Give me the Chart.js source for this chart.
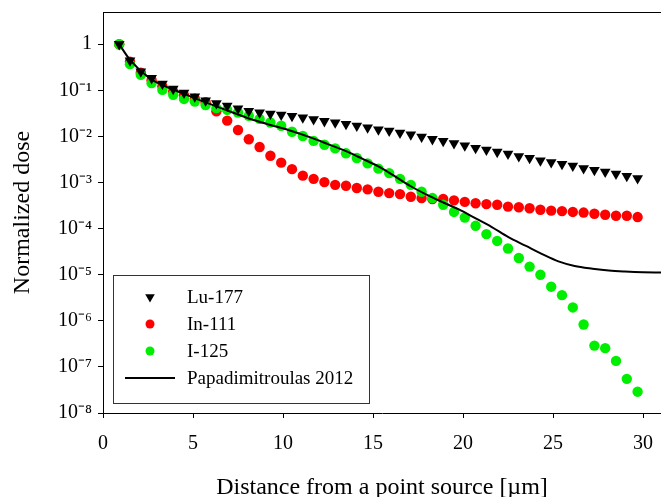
<!DOCTYPE html>
<html>
<head>
<meta charset="utf-8">
<script src="https://cdn.jsdelivr.net/npm/chart.js@4.4.0/dist/chart.umd.min.js"></script>
<style>
  html, body { margin: 0; padding: 0; background: #fff; }
</style>
</head>
<body>
<canvas id="myChart" width="661" height="497"></canvas>
<script>
// distances of the simulated points [µm]
const distances = [0.9, 1.5, 2.1, 2.7, 3.3, 3.9, 4.5, 5.1, 5.7, 6.3, 6.9, 7.5, 8.1, 8.7, 9.3, 9.9,
  10.5, 11.1, 11.7, 12.3, 12.9, 13.5, 14.1, 14.7, 15.3, 15.9, 16.5, 17.1, 17.7, 18.3, 18.9, 19.5,
  20.1, 20.7, 21.3, 21.9, 22.5, 23.1, 23.7, 24.3, 24.9, 25.5, 26.1, 26.7, 27.3, 27.9, 28.5, 29.1, 29.7];

const lu177 = [1.0, 0.44, 0.255, 0.183, 0.138, 0.107, 0.088, 0.073, 0.060, 0.052, 0.046, 0.040, 0.0355,
  0.033, 0.031, 0.0295, 0.0275, 0.0257, 0.0234, 0.0214, 0.020, 0.0186, 0.017, 0.0155, 0.0141, 0.0132,
  0.012, 0.011, 0.0098, 0.0087, 0.0079, 0.0071, 0.0063, 0.0056, 0.0051, 0.0046, 0.0042, 0.0037, 0.0034,
  0.0030, 0.00275, 0.0025, 0.0023, 0.00204, 0.00186, 0.0017, 0.00155, 0.00138, 0.00123];

const in111 = [1.0, 0.42, 0.24, 0.165, 0.122, 0.095, 0.078, 0.066, 0.055, 0.035, 0.022, 0.0138, 0.0087,
  0.0059, 0.0038, 0.0027, 0.00195, 0.00141, 0.0012, 0.00102, 0.00089, 0.00085, 0.00076, 0.00071,
  0.00063, 0.00059, 0.00056, 0.00049, 0.00046, 0.00044, 0.00044, 0.00041, 0.00038, 0.000355, 0.00034,
  0.00033, 0.0003, 0.00029, 0.000277, 0.000256, 0.000245, 0.00024, 0.00023, 0.000223, 0.00021, 0.0002,
  0.00019, 0.00019, 0.000178];

const i125 = [1.0, 0.37, 0.216, 0.143, 0.102, 0.080, 0.065, 0.057, 0.048, 0.041, 0.0376, 0.033, 0.028,
  0.024, 0.020, 0.017, 0.0126, 0.0102, 0.0080, 0.0066, 0.0055, 0.0043, 0.0034, 0.0026, 0.0020, 0.0016,
  0.0012, 0.00089, 0.00063, 0.00046, 0.00033, 0.00023, 0.000174, 0.000115, 7.6e-5, 5.4e-5, 3.7e-5,
  2.3e-5, 1.5e-5, 1.0e-5, 5.5e-6, 3.6e-6, 1.95e-6, 8.3e-7, 2.9e-7, 2.55e-7, 1.35e-7, 5.5e-8, 2.9e-8];

// Papadimitroulas 2012 reference curve
const papaX = [0.9, 1.5, 2.6, 3.5, 4.4, 5.3, 6.3, 7.2, 8.1, 9.2, 10.3, 11.6, 12.5, 13.5, 14.4, 15.3,
  16.2, 17.1, 18.0, 19.0, 19.8, 20.6, 21.6, 22.5, 23.5, 24.4, 25.3, 26.2, 27.2, 28.1, 29.0, 30.0, 31.0];
const papaY = [1.0, 0.457, 0.182, 0.120, 0.087, 0.063, 0.0447, 0.0331, 0.0245, 0.0182, 0.0138, 0.0093,
  0.0068, 0.0048, 0.0033, 0.00224, 0.00138, 0.00083, 0.00054, 0.000355, 0.000257, 0.000175, 0.000108,
  6.6e-5, 4.2e-5, 2.8e-5, 1.95e-5, 1.55e-5, 1.35e-5, 1.23e-5, 1.17e-5, 1.13e-5, 1.12e-5];

const xTicks = [0, 5, 10, 15, 20, 25, 30];
const yTickValues = [1e-8, 1e-7, 1e-6, 1e-5, 1e-4, 1e-3, 1e-2, 1e-1, 1];
const yTickLabels = ['10\u207B\u2078', '10\u207B\u2077', '10\u207B\u2076', '10\u207B\u2075', '10\u207B\u2074',
  '10\u207B\u00B3', '10\u207B\u00B2', '10\u207B\u00B9', '1'];

const SERIF = "'Liberation Serif', 'Times New Roman', serif";

const toPoints = (xs, ys) => xs.map((x, i) => ({ x: x, y: ys[i] }));

// top frame line
const topFrame = {
  id: 'topFrame',
  afterDraw(chart) {
    const { ctx, chartArea } = chart;
    ctx.save();
    ctx.strokeStyle = '#000';
    ctx.lineWidth = 1;
    ctx.beginPath();
    ctx.moveTo(chartArea.left, chartArea.top + 0.5);
    ctx.lineTo(chartArea.right, chartArea.top + 0.5);
    ctx.stroke();
    ctx.restore();
  }
};

// boxed legend in the lower left of the plot
const boxLegend = {
  id: 'boxLegend',
  afterDraw(chart) {
    const ctx = chart.ctx;
    const order = [1, 2, 3, 0];
    ctx.save();
    ctx.fillStyle = '#fff';
    ctx.fillRect(113, 275, 256, 129);
    ctx.strokeStyle = '#333';
    ctx.lineWidth = 1;
    ctx.strokeRect(113.5, 275.5, 256, 128);
    ctx.font = '19px ' + SERIF;
    ctx.textBaseline = 'middle';
    ctx.textAlign = 'left';
    order.forEach((di, row) => {
      const ds = chart.data.datasets[di];
      const y = 297 + row * 27;
      const x = 150;
      if (ds.showLine) {
        ctx.strokeStyle = ds.borderColor;
        ctx.lineWidth = ds.borderWidth;
        ctx.beginPath();
        ctx.moveTo(125, y);
        ctx.lineTo(175, y);
        ctx.stroke();
      } else if (ds.pointStyle === 'triangle') {
        const r = 5.5;
        ctx.fillStyle = ds.pointBackgroundColor;
        ctx.beginPath();
        ctx.moveTo(x - r * 0.87, y - r * 0.5);
        ctx.lineTo(x + r * 0.87, y - r * 0.5);
        ctx.lineTo(x, y + r);
        ctx.closePath();
        ctx.fill();
      } else {
        ctx.fillStyle = ds.pointBackgroundColor;
        ctx.beginPath();
        ctx.arc(x, y, 4.5, 0, Math.PI * 2);
        ctx.fill();
      }
      ctx.fillStyle = '#000';
      ctx.fillText(ds.label, 187, y + 1);
    });
    ctx.restore();
  }
};

new Chart(document.getElementById('myChart').getContext('2d'), {
  type: 'scatter',
  data: {
    datasets: [
      {
        label: 'Papadimitroulas 2012',
        data: toPoints(papaX, papaY),
        showLine: true,
        borderColor: '#000',
        borderWidth: 2,
        pointRadius: 0,
        cubicInterpolationMode: 'monotone',
        order: 0,
      },
      {
        label: 'Lu-177',
        data: toPoints(distances, lu177),
        pointStyle: 'triangle',
        rotation: 180,
        pointRadius: 6.2,
        pointBackgroundColor: '#000',
        pointBorderWidth: 0,
        borderColor: '#000',
        order: 1,
      },
      {
        label: 'In-111',
        data: toPoints(distances, in111),
        pointRadius: 5.2,
        pointBackgroundColor: '#ff0000',
        pointBorderWidth: 0,
        borderColor: '#ff0000',
        order: 3,
      },
      {
        label: 'I-125',
        data: toPoints(distances, i125),
        pointRadius: 5.2,
        pointBackgroundColor: '#00ee00',
        pointBorderWidth: 0,
        borderColor: '#00ee00',
        order: 2,
      },
    ],
  },
  options: {
    responsive: false,
    animation: false,
    devicePixelRatio: 1,
    layout: { autoPadding: false, padding: { top: 12, right: 0, left: 0, bottom: 0 } },
    plugins: {
      legend: { display: false },
      tooltip: { enabled: false },
    },
    scales: {
      x: {
        type: 'linear',
        min: 0,
        max: 31,
        afterBuildTicks: (scale) => { scale.ticks = xTicks.map(v => ({ value: v })); },
        afterFit: (scale) => {
          scale.height = 84;
          scale.paddingLeft = 0;
          scale.paddingRight = 0;
        },
        ticks: { font: { family: SERIF, size: 20 }, color: '#000', padding: 14, maxRotation: 0 },
        grid: { drawOnChartArea: false, tickLength: 5, color: '#000' },
        border: { color: '#000', width: 1 },
        title: {
          display: true,
          text: 'Distance from a point source [µm]',
          font: { family: SERIF, size: 24 },
          color: '#000',
          padding: { top: 0, bottom: -5 },
        },
      },
      y: {
        type: 'logarithmic',
        min: 1e-8,
        max: 5,
        afterBuildTicks: (scale) => { scale.ticks = yTickValues.map(v => ({ value: v })); },
        afterFit: (scale) => {
          scale.width = 103;
          scale.paddingTop = 0;
          scale.paddingBottom = 0;
        },
        ticks: {
          font: { family: SERIF, size: 20 },
          color: '#000',
          padding: 6,
          callback: (value) => yTickLabels[yTickValues.findIndex(v => Math.abs(Math.log10(v) - Math.log10(value)) < 0.01)],
        },
        grid: { drawOnChartArea: false, tickLength: 5, color: '#000' },
        border: { color: '#000', width: 1 },
        title: {
          display: true,
          text: 'Normalized dose',
          font: { family: SERIF, size: 24 },
          color: '#000',
          padding: { top: 8, bottom: 0 },
        },
      },
    },
  },
  plugins: [topFrame, boxLegend],
});
</script>
</body>
</html>
